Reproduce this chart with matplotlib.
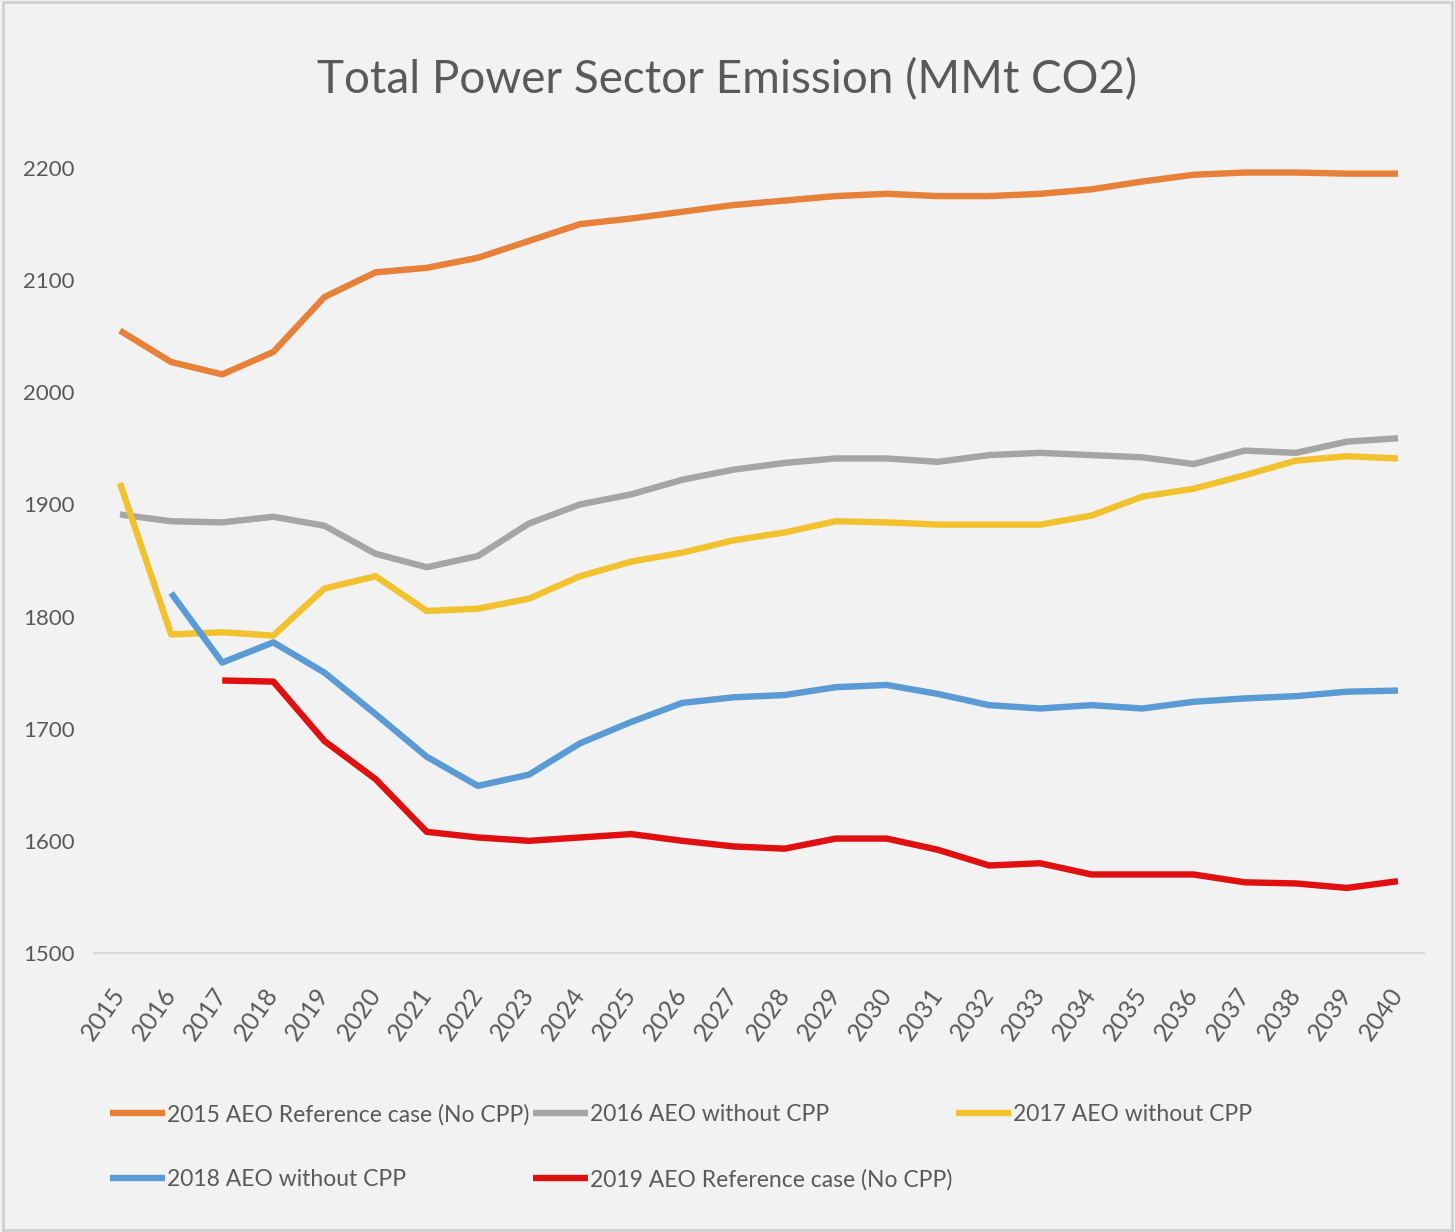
import matplotlib
matplotlib.use("Agg")
import matplotlib.pyplot as plt
import numpy as np
from matplotlib.patches import Rectangle

plt.rcParams['font.family'] = ['Lato', 'DejaVu Sans']

years = [str(y) for y in range(2015, 2041)]

aeo2015 = [2055, 2027, 2016, 2036, 2085, 2107, 2111, 2120, 2135, 2150, 2155, 2161, 2167,
           2171, 2175, 2177, 2175, 2175, 2177, 2181, 2188, 2194, 2196, 2196, 2195, 2195]
aeo2016 = [1891, 1885, 1884, 1889, 1881, 1856, 1844, 1854, 1883, 1900, 1909, 1922, 1931,
           1937, 1941, 1941, 1938, 1944, 1946, 1944, 1942, 1936, 1948, 1946, 1956, 1959]
aeo2017 = [1919, 1784, 1786, 1783, 1825, 1836, 1805, 1807, 1816, 1836, 1849, 1857, 1868,
           1875, 1885, 1884, 1882, 1882, 1882, 1890, 1907, 1914, 1926, 1939, 1943, 1941]
aeo2018 = [None, 1821, 1759, 1777, 1750, 1713, 1675, 1649, 1659, 1687, 1706, 1723, 1728,
           1730, 1737, 1739, 1731, 1721, 1718, 1721, 1718, 1724, 1727, 1729, 1733, 1734]
aeo2019 = [None, None, 1743, 1742, 1689, 1655, 1608, 1603, 1600, 1603, 1606, 1600, 1595,
           1593, 1602, 1602, 1592, 1578, 1580, 1570, 1570, 1570, 1563, 1562, 1558, 1564]

labels = ["2015 AEO Reference case (No CPP)", "2016 AEO without CPP", "2017 AEO without CPP",
          "2018 AEO without CPP", "2019 AEO Reference case (No CPP)"]
colors = ['#E7813A', '#A5A5A5', '#F2C12E', '#5B9BD5', '#E01010']
series = [aeo2015, aeo2016, aeo2017, aeo2018, aeo2019]

bg = '#F2F2F2'
txt = '#595959'
fig = plt.figure(figsize=(14.55, 12.32), dpi=100, facecolor=bg)
fig.patches.append(Rectangle((0.002, 0.002), 0.996, 0.996, transform=fig.transFigure,
                             fill=False, edgecolor='#D0D0D0', linewidth=2))
ax = fig.add_axes([0.0649, 0.2265, 0.9135, 0.6371], facecolor=bg)

x = np.arange(len(years))
handles = []
for s, c, lab in zip(series, colors, labels):
    y = np.array([np.nan if v is None else v for v in s], dtype=float)
    h, = ax.plot(x, y, color=c, linewidth=4.6, label=lab, solid_capstyle='butt')
    handles.append(h)

ax.set_xlim(-0.5, len(years) - 0.5)
ax.set_ylim(1500, 2200)
ax.set_yticks(np.arange(1500, 2201, 100))
ax.tick_params(axis='y', length=0, pad=14, labelsize=16, labelcolor=txt)
ax.set_xticks(x)
ax.set_xticklabels(years, rotation=55, ha='right', va='center', rotation_mode='anchor',
                   fontsize=18, color=txt)
ax.tick_params(axis='x', length=0, pad=27)
for sp in ['top', 'right', 'left']:
    ax.spines[sp].set_visible(False)
ax.spines['bottom'].set_color('#D9D9D9')
ax.spines['bottom'].set_linewidth(1.5)

fig.text(0.5, 0.935, "Total Power Sector Emission (MMt CO2)", ha='center', va='center',
         fontsize=33, color=txt)

order = [0, 3, 1, 4, 2]
leg = fig.legend([handles[i] for i in order], [labels[i] for i in order],
                 loc='upper left', bbox_to_anchor=(0.0756, 0.104), ncol=3, frameon=False,
                 fontsize=16.5, handlelength=2.4, handletextpad=0.1, columnspacing=0.15,
                 labelspacing=1.9, borderaxespad=0, borderpad=0)
for t in leg.get_texts():
    t.set_color(txt)

fig.savefig("out.png", dpi=100, facecolor=bg)
